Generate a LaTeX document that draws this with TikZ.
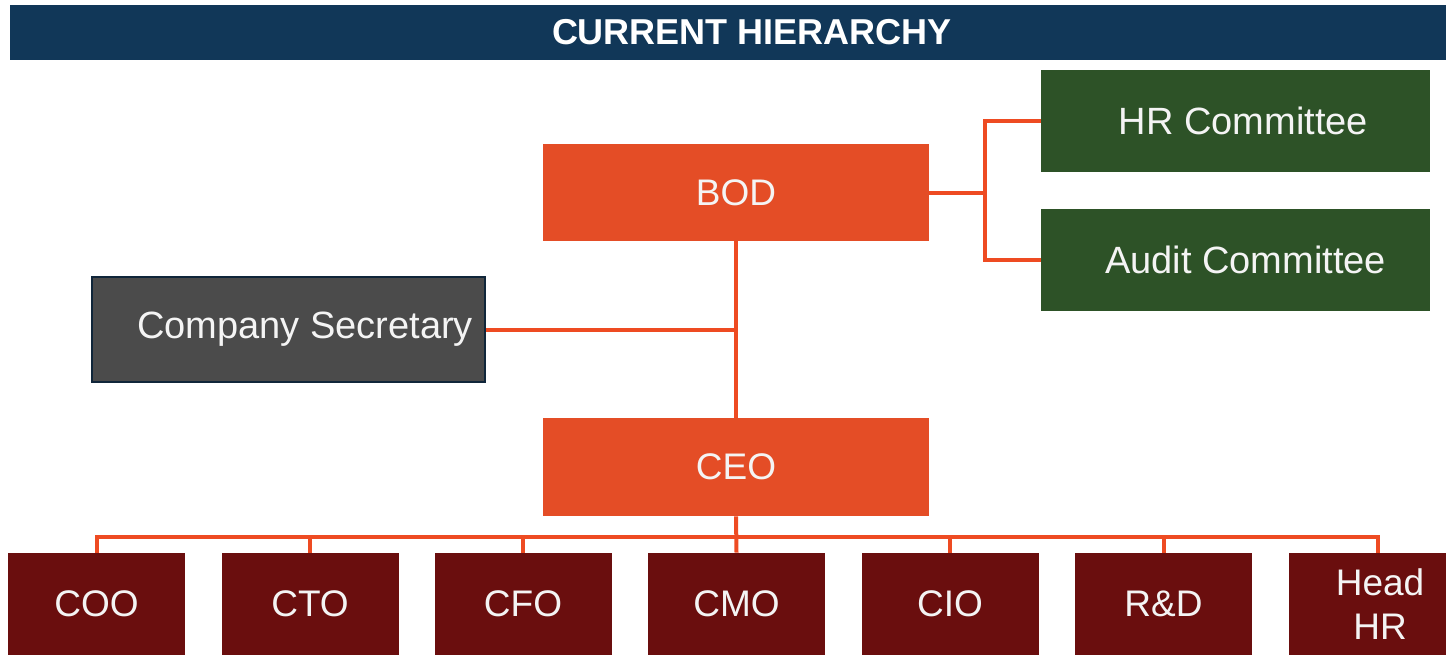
\documentclass[tikz,border=0pt]{standalone}
\usepackage{fontspec}
\setmainfont{Liberation Sans}
\definecolor{navy}{HTML}{113758}
\definecolor{bodorange}{HTML}{E44D26}
\definecolor{linkorange}{HTML}{EE4B22}
\definecolor{cmtgreen}{HTML}{2D5227}
\definecolor{secgray}{HTML}{4B4B4B}
\definecolor{secborder}{HTML}{10263A}
\definecolor{execred}{HTML}{6A0E0E}
\definecolor{txtwhite}{HTML}{F4F4F4}
\tikzset{
  box/.style={rectangle, inner sep=0pt, text=txtwhite, font=\fontsize{18.5}{22}\selectfont, align=center},
  topbox/.style={box, fill=bodorange, minimum width=193pt, minimum height=48.5pt},
  cmtbox/.style={box, fill=cmtgreen, minimum width=194.5pt, minimum height=51pt, font=\fontsize{19}{22}\selectfont},
  secbox/.style={box, fill=secgray, draw=secborder, line width=1pt, minimum width=196.5pt, minimum height=52.5pt, font=\fontsize{19}{22}\selectfont},
  execbox/.style={box, fill=execred, minimum width=88.5pt, minimum height=51pt},
  link/.style={draw=linkorange, line width=2pt},
}
\begin{document}
\begin{tikzpicture}[x=0.5pt,y=-0.5pt]
\useasboundingbox (0,0) rectangle (1446,655);
% title
\node[rectangle, fill=navy, minimum width=718pt, minimum height=27.5pt, inner sep=0pt,
      text=white, font=\fontsize{18}{20}\selectfont\bfseries] (title) at (728,32.5) {\hspace*{24pt}CURRENT HIERARCHY};
% top
\node[topbox] (bod) at (736,192.5) {BOD};
\node[cmtbox] (hr) at (1235.5,121) {\hspace*{8pt}HR Committee};
\node[cmtbox] (audit) at (1235.5,260) {\hspace*{10pt}Audit Committee};
\node[secbox] (sec) at (288.5,329.5) {\hspace*{16.5pt}Company Secretary};
\node[topbox, minimum height=49pt] (ceo) at (736,467) {CEO};
% executives
\node[execbox] (coo) at (96.5,604) {COO};
\node[execbox] (cto) at (310,604) {CTO};
\node[execbox] (cfo) at (523,604) {CFO};
\node[execbox] (cmo) at (736.5,604) {CMO};
\node[execbox] (cio) at (950,604) {CIO};
\node[execbox] (rd) at (1163.5,604) {R\&D};
\node[execbox, minimum width=78.5pt] (headhr) at (1367.5,604) {\hspace*{12.5pt}Head\\\hspace*{12.5pt}HR};
% connectors
\coordinate (cmtjoin) at (985,192.5);
\coordinate (secjoin) at (737,329.5);
\coordinate (hrdrop) at (1378,553);
\draw[link] (bod.east) -- (cmtjoin);
\draw[link] (hr.west) -| (cmtjoin) |- (audit.west);
\draw[link] (bod.south) -- (ceo.north);
\draw[link] (sec.east) -- (secjoin);
\draw[link] (ceo.south) -- (cmo.north);
\draw[link] (coo.north) -- ++(0,-16) -| (hrdrop);
\foreach \n in {cto,cfo,cio,rd} { \draw[link] (\n.north) -- ++(0,-16); }
\end{tikzpicture}
\end{document}
